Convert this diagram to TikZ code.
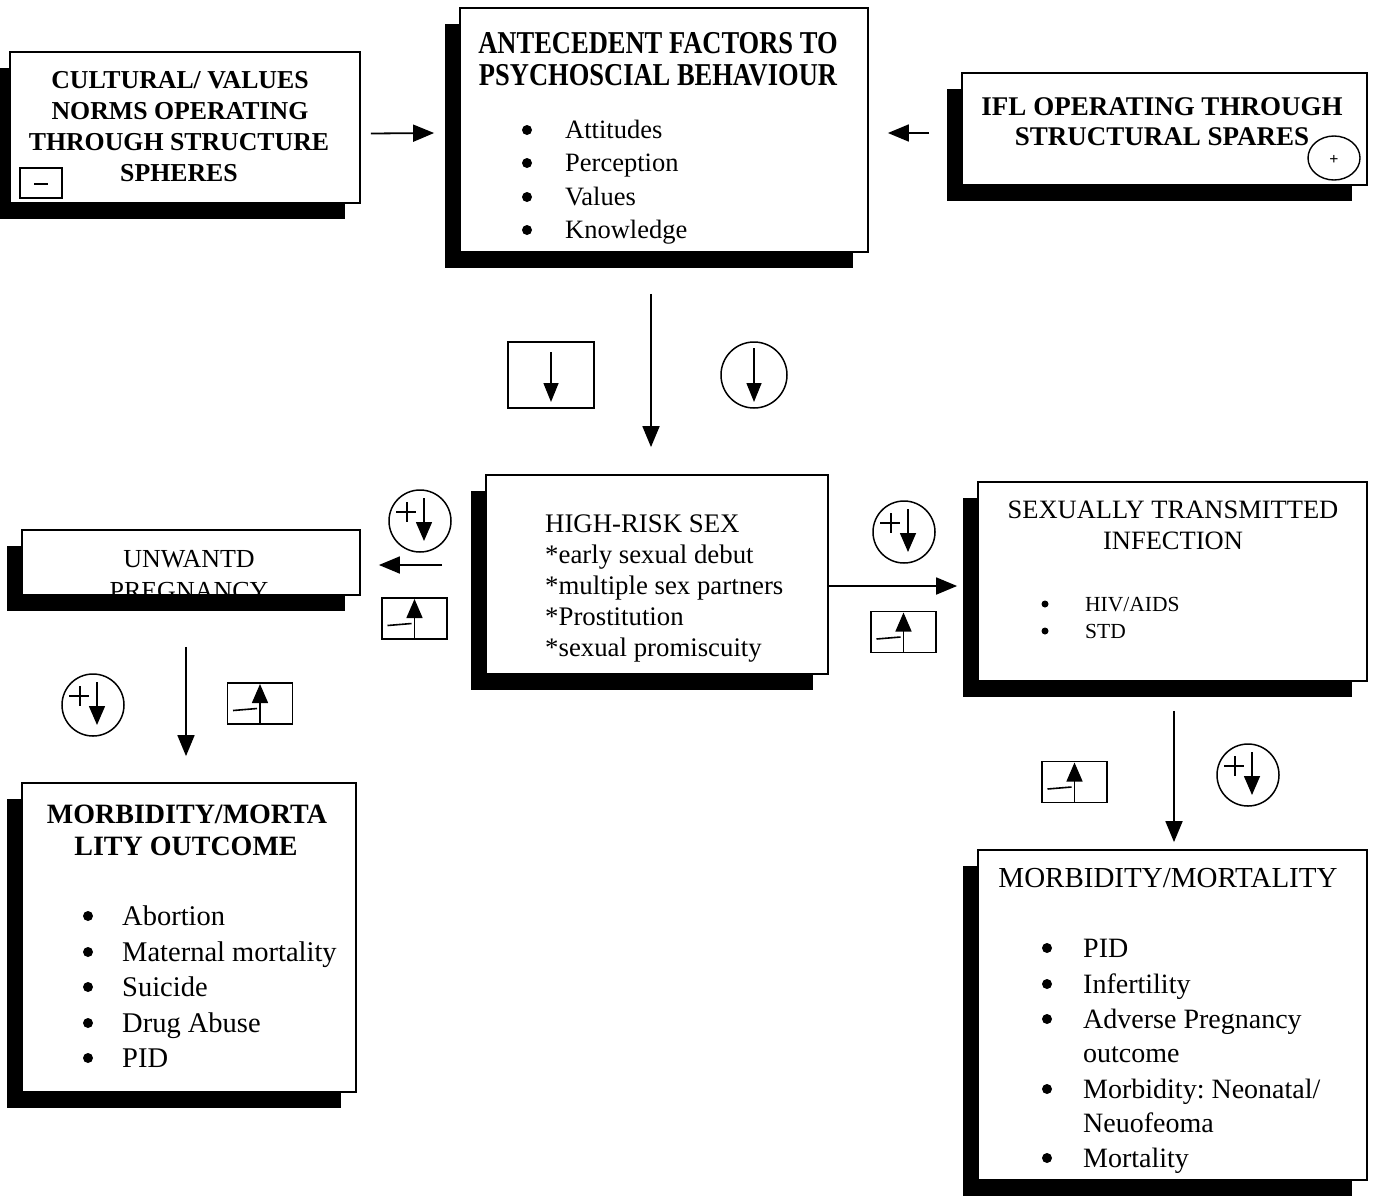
\documentclass[tikz,border=0pt]{standalone}
\usepackage{fontspec}
\usepackage{graphicx}
\setmainfont{Liberation Serif}
\frenchspacing
\usetikzlibrary{arrows.meta,shadows}
\tikzstyle{box} = [draw,line width=1.8pt,fill=white,inner sep=0,
	drop shadow={shadow xshift=-15pt,shadow yshift=-16pt,opacity=1,fill=black}]
\tikzstyle{arr} = [line width=1.8pt,-{Triangle[length=21pt,width=17pt]}]
\tikzstyle{hd} = [anchor=base,inner sep=0]
\tikzstyle{txt} = [anchor=base west,inner sep=0]
\tikzstyle{bul} = [circle,fill,inner sep=0,minimum size=10]
\newcommand{\fs}[1]{\fontsize{#1}{#1}\selectfont}

\tikzset{
	pluscirc/.pic={
		\draw[line width=1.5pt] (0,0) circle [radius=31];
		\draw[line width=1.5pt] (-24,-9) -- (-4,-9) (-13,-19) -- (-13,1);
		\draw[line width=1.5pt,-{Triangle[length=19pt,width=16pt]}] (4,-23) -- (4,20);
	},
	minusbox/.pic={
		\draw[line width=1.5pt] (-32.5,-20.5) rectangle (32.5,20.5);
		\draw[line width=1.5pt,-{Triangle[length=19pt,width=16pt]}] (0,20.5) -- (0,-19.5);
		\draw[line width=1.6pt] (-27,7) -- (-3,5);
	}
}

\begin{document}
\begin{tikzpicture}[x=1pt,y=-1pt]
	\useasboundingbox (0,0) rectangle (1373,1200);
	
	% Draw the boxes
	\node[box,minimum width=350,minimum height=151] (cult) at (185,127.5) {};
	\node[box,minimum width=408,minimum height=244] (ante) at (664,130) {};
	\node[box,minimum width=405,minimum height=112] (ifl) at (1164.5,129) {};
	\node[box,minimum width=338,minimum height=65] (unw) at (191,562.5) {};
	\node[box,minimum width=342,minimum height=199] (risk) at (657,574.5) {};
	\node[box,minimum width=389,minimum height=199] (sti) at (1172.5,581.5) {};
	\node[box,minimum width=334,minimum height=309] (morl) at (189,937.5) {};
	\node[box,minimum width=389,minimum height=330] (morr) at (1172.5,1015) {};
	
	% Cultural box
	\def \hs {\fs{25.8}\bfseries}
	\node[hd] (cult1) at (180,88) {\hs CULTURAL/ VALUES};
	\node[hd] (cult2) at (180,119) {\hs NORMS OPERATING};
	\node[hd] (cult3) at (179,150) {\hs THROUGH STRUCTURE};
	\node[hd] (cult4) at (179,181) {\hs SPHERES};
	\node[draw,line width=1.3pt,minimum width=42,minimum height=30,inner sep=0] (cultsign) at (41,183) {};
	\draw[line width=2.5pt] (34,184) -- (48,184);
	
	% Antecedent box
	\node[hd] (ante1) at (658,53) {\fs{26.5}\bfseries\scalebox{1}[1.2]{ANTECEDENT FACTORS TO}};
	\node[hd] (ante2) at (658,85) {\fs{26.5}\bfseries\scalebox{1}[1.2]{PSYCHOSCIAL BEHAVIOUR}};
	\foreach [count=\i] \lbl/\yy in {Attitudes/138,Perception/171,Values/205,Knowledge/238}{
		\node[bul] (anteb\i) at (527,\yy-8) {};
		\node[txt] (antet\i) at (565,\yy) {\fs{26.5}\lbl};
	}
	
	% IFL box
	\node[hd] (ifl1) at (1162,115) {\fs{27}\bfseries IFL OPERATING THROUGH};
	\node[hd] (ifl2) at (1162,145) {\fs{27}\bfseries STRUCTURAL SPARES};
	\draw[line width=1.4pt] (1334,158) ellipse [x radius=26,y radius=22];
	\node[inner sep=0] (iflsign) at (1334,160) {\fs{16}\bfseries +};
	
	% Unwanted pregnancy box
	\node[hd] (unw1) at (189,567) {\fs{26}UNWANTD};
	\begin{scope}
		\clip (unw.north west) rectangle (unw.south east);
		\node[hd] (unw2) at (189,599) {\fs{26}PREGNANCY};
	\end{scope}
	
	% High-risk box
	\foreach [count=\i] \lbl/\yy in {HIGH-RISK SEX/532,*early sexual debut/563,*multiple sex partners/594,*Prostitution/625,*sexual promiscuity/656}{
		\node[txt] (riskt\i) at (545,\yy) {\fs{26.8}\lbl};
	}
	
	% STI box
	\node[hd] (sti1) at (1173,518) {\fs{26.5}SEXUALLY TRANSMITTED};
	\node[hd] (sti2) at (1173,549) {\fs{26.5}INFECTION};
	\foreach [count=\i] \lbl/\yy in {{HIV/AIDS}/611,STD/638}{
		\node[bul,minimum size=7] (stib\i) at (1045,\yy-7) {};
		\node[txt] (stit\i) at (1085,\yy) {\fs{21.5}\lbl};
	}
	
	% Left outcome box
	\node[hd] (morl1) at (187,823) {\fs{28}\bfseries MORBIDITY/MORTA};
	\node[hd] (morl2) at (186,855) {\fs{28}\bfseries LITY OUTCOME};
	\foreach [count=\i] \lbl/\yy in {Abortion/925,Maternal mortality/961,Suicide/996,Drug Abuse/1032,PID/1067}{
		\node[bul] (morlb\i) at (88,\yy-9) {};
		\node[txt] (morlt\i) at (122,\yy) {\fs{28.5}\lbl};
	}
	
	% Right outcome box
	\node[hd] (morr1) at (1168,887) {\fs{29}MORBIDITY/MORTALITY};
	\foreach [count=\i] \yy in {957,993,1028,1098,1167}{
		\node[bul] (morrb\i) at (1047,\yy-9) {};
	}
	\foreach [count=\i] \lbl/\yy in {PID/957,Infertility/993,Adverse Pregnancy/1028,outcome/1062,{Morbidity: Neonatal/}/1098,Neuofeoma/1132,Mortality/1167}{
		\node[txt] (morrt\i) at (1083,\yy) {\fs{28}\lbl};
	}
	
	% Arrows between boxes
	\draw[arr] ([shift={(10,6)}]cult.east) -- ([shift={(-25,3)}]ante.west);
	\draw[arr] ([shift={(-32,4)}]ifl.west) -- ([shift={(19,3)}]ante.east);
	\draw[arr] ([shift={(-13,41)}]ante.south) -- ([shift={(-6,-27)}]risk.north);
	\draw[arr] ([shift={(-43,-9.5)}]risk.west) -- ([shift={(18,2.5)}]unw.east);
	\draw[arr] ([shift={(0,11.5)}]risk.east) -- ([shift={(-20,4.5)}]sti.west);
	\draw[arr] ([shift={(-5,51)}]unw.south) -- ([shift={(-3,-26)}]morl.north);
	\draw[arr] ([shift={(1.5,29)}]sti.south) -- ([shift={(1.5,-7)}]morr.north);
	
	% Down symbols under the top box
	\draw[line width=1.5pt] (508,342) rectangle (594,408);
	\draw[line width=1.5pt,-{Triangle[length=19pt,width=15pt]}] (551,352) -- (551,402);
	\draw[line width=1.5pt] (754,375) circle [radius=33];
	\draw[line width=1.5pt,-{Triangle[length=19pt,width=15pt]}] (754,348) -- (754,402);
	
	% Plus/minus symbols
	\pic at (420,521) {pluscirc};
	\pic at (414.5,618.5) {minusbox};
	\pic at (904,532) {pluscirc};
	\pic at (903.5,632) {minusbox};
	\pic at (93,705) {pluscirc};
	\pic at (260,703.5) {minusbox};
	\pic at (1074.5,782) {minusbox};
	\pic at (1248,775) {pluscirc};
\end{tikzpicture}
\end{document}
